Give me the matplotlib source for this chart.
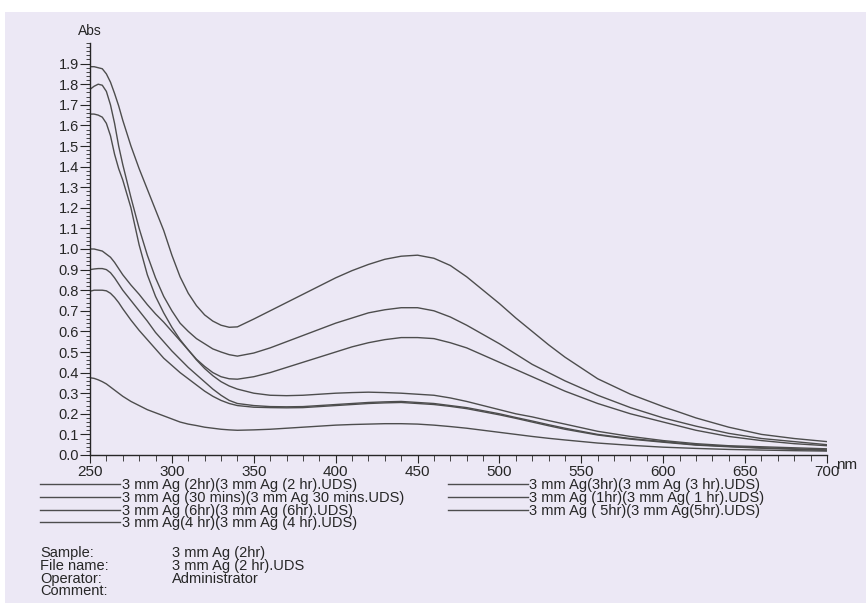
import numpy as np
import matplotlib
matplotlib.use("Agg")
import matplotlib.pyplot as plt
from matplotlib.ticker import MultipleLocator
from matplotlib.patches import Rectangle

# wavelength grid (nm) and absorbance
wavelength = [250, 252.5, 255, 257.5, 260, 262.5, 265, 267.5, 270,
              275, 280, 285, 290, 295, 300, 305, 310, 315, 320, 325, 330, 335,
              340, 350, 360, 370, 380, 390, 400, 410, 420, 430, 440, 450, 460, 470,
              480, 490, 500, 510, 520, 530, 540,
              560, 580, 600, 620, 640, 660, 680, 700]

abs_2hr = [1.885, 1.885, 1.88, 1.875, 1.85, 1.81, 1.755, 1.695, 1.625,
           1.50, 1.39, 1.29, 1.19, 1.09, 0.97, 0.865, 0.785, 0.725, 0.68, 0.65, 0.63, 0.62,
           0.622, 0.66, 0.70, 0.74, 0.78, 0.82, 0.86, 0.895, 0.925, 0.95, 0.965, 0.97,
           0.955, 0.92, 0.865, 0.80, 0.735, 0.665, 0.60, 0.535, 0.475,
           0.37, 0.295, 0.235, 0.18, 0.135, 0.10, 0.08, 0.065]
abs_30min = [1.775, 1.79, 1.80, 1.795, 1.765, 1.70, 1.61, 1.50, 1.41,
             1.25, 1.10, 0.97, 0.86, 0.77, 0.70, 0.64, 0.60, 0.565, 0.54, 0.515, 0.50, 0.487,
             0.48, 0.495, 0.52, 0.55, 0.58, 0.61, 0.64, 0.665, 0.69, 0.705, 0.715, 0.715,
             0.70, 0.67, 0.63, 0.585, 0.54, 0.49, 0.44, 0.40, 0.36,
             0.29, 0.23, 0.18, 0.14, 0.105, 0.08, 0.065, 0.05]
abs_6hr = [1.655, 1.655, 1.65, 1.64, 1.61, 1.55, 1.46, 1.39, 1.335,
           1.20, 1.02, 0.875, 0.77, 0.69, 0.62, 0.56, 0.51, 0.465, 0.43, 0.40, 0.38, 0.37,
           0.368, 0.38, 0.40, 0.425, 0.45, 0.475, 0.50, 0.525, 0.545, 0.56, 0.57, 0.57,
           0.565, 0.545, 0.52, 0.485, 0.45, 0.415, 0.38, 0.345, 0.31,
           0.25, 0.20, 0.16, 0.12, 0.09, 0.07, 0.055, 0.045]
abs_4hr = [1.0, 1.0, 0.995, 0.99, 0.975, 0.96, 0.935, 0.905, 0.875,
           0.825, 0.78, 0.73, 0.685, 0.645, 0.60, 0.555, 0.51, 0.462, 0.42, 0.385, 0.356, 0.335,
           0.32, 0.30, 0.29, 0.288, 0.29, 0.295, 0.30, 0.303, 0.305, 0.303, 0.30, 0.295,
           0.29, 0.277, 0.26, 0.24, 0.22, 0.20, 0.185, 0.167, 0.15,
           0.115, 0.09, 0.07, 0.055, 0.045, 0.04, 0.035, 0.03]
abs_3hr = [0.90, 0.903, 0.905, 0.905, 0.90, 0.885, 0.86, 0.83, 0.80,
           0.75, 0.70, 0.65, 0.595, 0.55, 0.505, 0.465, 0.425, 0.39, 0.355, 0.32, 0.29, 0.265,
           0.25, 0.24, 0.235, 0.234, 0.235, 0.24, 0.245, 0.25, 0.255, 0.258, 0.26, 0.255,
           0.25, 0.24, 0.23, 0.215, 0.20, 0.182, 0.165, 0.147, 0.13,
           0.10, 0.08, 0.065, 0.05, 0.042, 0.035, 0.03, 0.025]
abs_1hr = [0.795, 0.80, 0.80, 0.80, 0.797, 0.785, 0.765, 0.74, 0.71,
           0.655, 0.605, 0.56, 0.515, 0.47, 0.435, 0.40, 0.37, 0.34, 0.31, 0.285, 0.265, 0.25,
           0.24, 0.232, 0.23, 0.229, 0.23, 0.235, 0.24, 0.245, 0.25, 0.253, 0.255, 0.25,
           0.245, 0.236, 0.225, 0.21, 0.195, 0.178, 0.16, 0.142, 0.125,
           0.097, 0.077, 0.062, 0.048, 0.04, 0.033, 0.028, 0.022]
abs_5hr = [0.375, 0.372, 0.365, 0.356, 0.345, 0.33, 0.315, 0.30, 0.285,
           0.26, 0.24, 0.22, 0.205, 0.19, 0.175, 0.16, 0.15, 0.143, 0.135, 0.13, 0.125, 0.122,
           0.12, 0.122, 0.125, 0.13, 0.135, 0.14, 0.145, 0.148, 0.15, 0.152, 0.152, 0.15,
           0.145, 0.138, 0.13, 0.12, 0.11, 0.10, 0.09, 0.081, 0.073,
           0.058, 0.047, 0.038, 0.032, 0.027, 0.024, 0.021, 0.019]

labels = ["3 mm Ag (2hr)(3 mm Ag (2 hr).UDS)",
          "3 mm Ag (30 mins)(3 mm Ag 30 mins.UDS)",
          "3 mm Ag (6hr)(3 mm Ag (6hr).UDS)",
          "3 mm Ag(4 hr)(3 mm Ag (4 hr).UDS)",
          "3 mm Ag(3hr)(3 mm Ag (3 hr).UDS)",
          "3 mm Ag (1hr)(3 mm Ag( 1 hr).UDS)",
          "3 mm Ag ( 5hr)(3 mm Ag(5hr).UDS)"]
series = [abs_2hr, abs_30min, abs_6hr, abs_4hr, abs_3hr, abs_1hr, abs_5hr]

info_keys = ["Sample:", "File name:", "Operator:", "Comment:"]
info_vals = ["3 mm Ag (2hr)", "3 mm Ag (2 hr).UDS", "Administrator", ""]

plt.rcParams['font.family'] = ['Liberation Sans', 'DejaVu Sans']
paper = "#ece8f5"
ink = "#262626"
trace = "#4d4d4d"

W, H = 866, 603
fig = plt.figure(figsize=(W / 100, H / 100), dpi=100, facecolor="white")
# scanned paper area (thin white margin at top and left)
fig.patches.append(Rectangle((5 / W, 0), 1, 1 - 12 / H, transform=fig.transFigure,
                             facecolor=paper, edgecolor="none", zorder=-10))

ax = fig.add_axes([90 / W, 1 - 455 / H, (827 - 90) / W, (455 - 43) / H])
ax.set_facecolor("none")

for lab, y in zip(labels, series):
    ax.plot(wavelength, y, color=trace, lw=1.0, label=lab)

ax.set_xlim(250, 700)
ax.set_ylim(0, 2.0)
for s in ["top", "right"]:
    ax.spines[s].set_visible(False)
for s in ["left", "bottom"]:
    ax.spines[s].set_color(ink)
    ax.spines[s].set_linewidth(1.0)

yt = np.round(np.arange(0, 1.95, 0.1), 1)
ax.set_yticks(yt)
ax.set_yticklabels([f"{v:.1f}" for v in yt])
ax.yaxis.set_minor_locator(MultipleLocator(0.02))
ax.xaxis.set_major_locator(MultipleLocator(50))
ax.xaxis.set_minor_locator(MultipleLocator(10))
ax.tick_params(axis="y", which="major", length=7, width=0.8, labelsize=10.5, pad=1,
               colors=ink)
ax.tick_params(axis="y", which="minor", length=3, width=0.6, colors=ink)
ax.tick_params(axis="x", which="major", length=6, width=0.8, labelsize=11, pad=1,
               colors=ink)
ax.tick_params(axis="x", which="minor", length=4, width=0.6, colors=ink)

ax.text(0.0, 1.012, "Abs", transform=ax.transAxes, ha="center", va="bottom",
        fontsize=10, color=ink)
ax.text(1.012, -0.025, "nm", transform=ax.transAxes, ha="left", va="center",
        fontsize=11, color=ink)

fig.legend(loc="upper left", bbox_to_anchor=(40 / W, 1 - 478 / H), ncol=2,
           frameon=False, fontsize=10.5, handlelength=5.5, handletextpad=0.1,
           columnspacing=3.0, labelspacing=-0.08, borderpad=0, borderaxespad=0,
           labelcolor=ink)

for i, (k, v) in enumerate(zip(info_keys, info_vals)):
    yy = 1 - (553 + 12.8 * i) / H
    fig.text(40 / W, yy, k, fontsize=10.5, color=ink, va="center")
    fig.text(172 / W, yy, v, fontsize=10.5, color=ink, va="center")

fig.savefig("out.png", dpi=100, facecolor=fig.get_facecolor())
